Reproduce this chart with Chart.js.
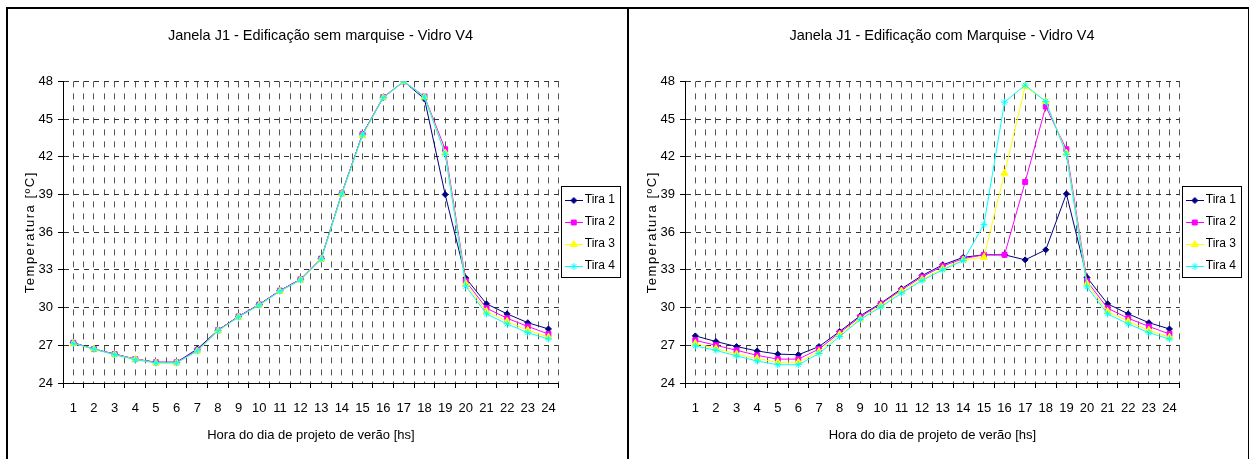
<!DOCTYPE html>
<html>
<head>
<meta charset="utf-8">
<script src="https://cdn.jsdelivr.net/npm/chart.js@4.4.1/dist/chart.umd.min.js"></script>
<style>
html, body { margin: 0; padding: 0; background: #fff; }
body { width: 1249px; height: 459px; position: relative; overflow: hidden; }
.box { position: absolute; top: 7px; height: 460px; border: 2px solid #000; border-bottom: none; }
#boxSem { left: 6px; width: 619px; }
#boxCom { left: 627px; width: 619px; }
canvas { display: block; }
</style>
</head>
<body>
<div class="box" id="boxSem"><canvas id="chartSem" width="619" height="450"></canvas></div>
<div class="box" id="boxCom"><canvas id="chartCom" width="619" height="450"></canvas></div>
<script>
// horas do dia
const hours = [1, 2, 3, 4, 5, 6, 7, 8, 9, 10, 11, 12, 13, 14, 15, 16, 17, 18, 19, 20, 21, 22, 23, 24];
const seriesNames = ['Tira 1', 'Tira 2', 'Tira 3', 'Tira 4'];

// edificacao sem marquise
const semTira1 = [27.2, 26.7, 26.3, 25.9, 25.65, 25.65, 26.7, 28.2, 29.3, 30.25, 31.35, 32.25, 33.9, 39.1, 43.8, 46.7, 48.0, 46.6, 39.0, 32.35, 30.3, 29.5, 28.8, 28.3];
const semTira2 = [27.2, 26.7, 26.3, 25.9, 25.65, 25.65, 26.6, 28.2, 29.3, 30.25, 31.35, 32.25, 33.9, 39.1, 43.8, 46.75, 48.0, 46.8, 42.6, 32.1, 29.95, 29.15, 28.5, 27.9];
const semTira3 = [27.15, 26.7, 26.25, 25.9, 25.6, 25.6, 26.55, 28.15, 29.25, 30.2, 31.3, 32.2, 33.85, 39.05, 43.7, 46.7, 48.0, 46.75, 42.3, 31.9, 29.7, 28.9, 28.2, 27.65];
const semTira4 = [27.15, 26.7, 26.25, 25.85, 25.6, 25.6, 26.55, 28.15, 29.25, 30.2, 31.3, 32.2, 33.85, 39.05, 43.75, 46.7, 48.0, 46.75, 42.2, 31.7, 29.5, 28.7, 28.0, 27.5];

// edificacao com marquise
const comTira1 = [27.75, 27.3, 26.9, 26.55, 26.3, 26.25, 26.9, 28.1, 29.35, 30.35, 31.5, 32.55, 33.4, 34.0, 34.2, 34.2, 33.8, 34.6, 39.05, 32.4, 30.3, 29.5, 28.8, 28.3];
const comTira2 = [27.4, 27.0, 26.6, 26.2, 25.9, 25.9, 26.7, 28.0, 29.25, 30.3, 31.4, 32.45, 33.3, 33.9, 34.2, 34.2, 40.0, 46.0, 42.6, 32.1, 29.95, 29.15, 28.5, 27.9];
const comTira3 = [27.15, 26.75, 26.3, 25.95, 25.65, 25.65, 26.5, 27.85, 29.1, 30.15, 31.3, 32.25, 33.1, 33.8, 34.0, 40.7, 47.6, 46.4, 42.3, 31.9, 29.7, 28.9, 28.2, 27.65];
const comTira4 = [26.95, 26.6, 26.15, 25.75, 25.45, 25.45, 26.35, 27.7, 29.05, 30.05, 31.15, 32.15, 33.0, 33.75, 36.6, 46.35, 47.7, 46.4, 42.2, 31.65, 29.5, 28.7, 28.0, 27.5];

const yTicks = [24, 27, 30, 33, 36, 39, 42, 45, 48];

const FONT = 'Arial, "Liberation Sans", sans-serif';
const colors = ['#000080', '#FF00FF', '#FFFF00', '#00FFFF'];
const markers = [
    { style: 'rectRot', radius: 3 },
    { style: 'rect', radius: 3.5 },
    { style: 'triangle', radius: 4 },
    { style: 'star', radius: 3.5 }
];

// little line+marker picture for the legend, like excel does
function legendSample(i) {
    const c = document.createElement('canvas');
    c.width = 18;
    c.height = 10;
    const g = c.getContext('2d');
    g.strokeStyle = colors[i];
    g.fillStyle = colors[i];
    g.lineWidth = 1;
    g.beginPath();
    g.moveTo(0, 5.5);
    g.lineTo(18, 5.5);
    g.stroke();
    Chart.helpers.drawPoint(g, { pointStyle: markers[i].style, radius: markers[i].radius, borderWidth: 1, rotation: 0 }, 9, 5.5);
    return c;
}

const legendBorder = {
    id: 'legendBorder',
    afterDraw(chart) {
        const boxes = chart.legend && chart.legend.legendHitBoxes;
        if (!boxes || !boxes.length) return;
        const left = Math.min(...boxes.map(b => b.left)) - 8;
        const top = Math.min(...boxes.map(b => b.top)) - 8;
        const right = Math.max(...boxes.map(b => b.left + b.width)) + 5;
        const bottom = Math.max(...boxes.map(b => b.top + b.height)) + 5;
        const ctx = chart.ctx;
        ctx.save();
        ctx.strokeStyle = '#000';
        ctx.lineWidth = 1;
        ctx.strokeRect(Math.round(left) + 0.5, Math.round(top) + 0.5, Math.round(right - left), Math.round(bottom - top));
        ctx.restore();
    }
};

function spacedTitle(scale) {
    if (scale._spaced) return;
    const orig = scale.drawTitle.bind(scale);
    scale.drawTitle = function () {
        scale.ctx.save();
        scale.ctx.letterSpacing = '1.5px';
        orig();
        scale.ctx.restore();
    };
    scale._spaced = true;
}

function makeChart(id, titleText, data, padLeft) {
    const datasets = data.map((vals, i) => ({
        label: seriesNames[i],
        data: hours.map((h, k) => ({ x: h, y: vals[k] })),
        borderColor: colors[i],
        backgroundColor: colors[i],
        borderWidth: 1,
        pointStyle: markers[i].style,
        pointRadius: markers[i].radius,
        pointBorderWidth: 1,
        tension: 0,
        order: 4 - i
    }));

    return new Chart(document.getElementById(id), {
        type: 'line',
        data: { datasets },
        plugins: [legendBorder],
        options: {
            responsive: false,
            animation: false,
            layout: { padding: { left: padLeft, right: 2, top: 0, bottom: 16 } },
            plugins: {
                tooltip: { enabled: false },
                title: {
                    display: true,
                    text: titleText,
                    color: '#000',
                    font: { family: FONT, size: 14.5, weight: 'normal' },
                    padding: { top: 18, bottom: 37 }
                },
                legend: {
                    position: 'right',
                    // empty title only pushes the items a bit lower
                    title: { display: true, text: '', font: { size: 10 }, padding: 1 },
                    labels: {
                        color: '#000',
                        font: { family: FONT, size: 12 },
                        usePointStyle: true,
                        pointStyleWidth: 10,
                        padding: 10,
                        generateLabels: (chart) => chart.data.datasets.map((ds, i) => ({
                            text: ds.label,
                            pointStyle: legendSample(i),
                            fillStyle: colors[i],
                            strokeStyle: colors[i],
                            lineWidth: 0,
                            datasetIndex: i,
                            fontColor: '#000'
                        }))
                    }
                }
            },
            scales: {
                x: {
                    type: 'linear',
                    min: 0.5,
                    max: 24.5,
                    afterFit: (s) => { s.height = 60; },
                    ticks: {
                        stepSize: 0.5,
                        autoSkip: false,
                        maxRotation: 0,
                        padding: 13,
                        color: '#000',
                        font: { family: FONT, size: 13 },
                        callback: (v) => Number.isInteger(v) ? String(v) : ''
                    },
                    grid: {
                        color: '#555',
                        lineWidth: 1,
                        tickLength: 5,
                        tickColor: (ctx) => (ctx.tick && ctx.tick.value % 1 !== 0) ? '#000' : 'rgba(0,0,0,0)'
                    },
                    border: { display: true, color: '#000', width: 1, dash: [6, 6] },
                    title: {
                        display: true,
                        text: 'Hora do dia de projeto de verão [hs]',
                        color: '#000',
                        font: { family: FONT, size: 13 },
                        padding: { top: 0, bottom: 0 }
                    }
                },
                y: {
                    min: 24,
                    max: 48,
                    afterFit: (s) => { s.width = 47; spacedTitle(s); },
                    afterBuildTicks: (s) => { s.ticks = yTicks.map(v => ({ value: v })); },
                    ticks: {
                        padding: 5,
                        color: '#000',
                        font: { family: FONT, size: 13 }
                    },
                    grid: {
                        color: '#333',
                        lineWidth: 1,
                        tickLength: 5,
                        tickColor: '#000'
                    },
                    border: { display: true, color: '#000', width: 1, dash: [5, 5] },
                    title: {
                        display: true,
                        text: 'Temperatura [ºC]',
                        color: '#000',
                        font: { family: FONT, size: 13 },
                        padding: { top: 7, bottom: 0 }
                    }
                }
            }
        }
    });
}

makeChart('chartSem', 'Janela J1 - Edificação sem marquise - Vidro V4', [semTira1, semTira2, semTira3, semTira4], 8);
makeChart('chartCom', 'Janela J1 - Edificação com Marquise - Vidro V4', [comTira1, comTira2, comTira3, comTira4], 9);
</script>
</body>
</html>
